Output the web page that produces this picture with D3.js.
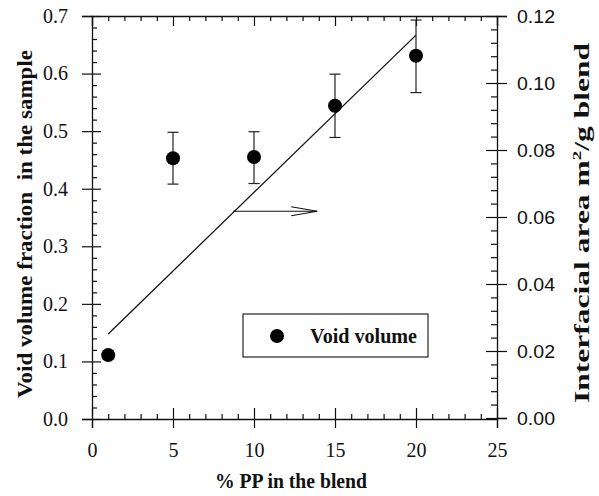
<!DOCTYPE html>
<html><head><meta charset="utf-8">
<script src="https://cdn.jsdelivr.net/npm/d3@7"></script>
<style>
body{margin:0;background:#fff;}
svg{display:block;}
</style></head>
<body>
<script>
// Data
const ppPercent = [1, 5, 10, 15, 20];
const voidVolume = [0.111, 0.453, 0.455, 0.544, 0.631];
const voidErrLow = [0.104, 0.408, 0.409, 0.489, 0.567];
const voidErrHigh = [0.119, 0.498, 0.499, 0.599, 0.693];
const areaX = [1, 20];
const areaValues = [0.0251, 0.1143];
const xTicks = [0, 5, 10, 15, 20, 25];
const yLeftTicks = [0.0, 0.1, 0.2, 0.3, 0.4, 0.5, 0.6, 0.7];
const yRightTicks = [0.00, 0.02, 0.04, 0.06, 0.08, 0.10, 0.12];

const W = 599, H = 496;
const svg = d3.select("body").append("svg").attr("width", W).attr("height", H);

const x = d3.scaleLinear().domain([0, 25]).range([92, 497]);
const yL = d3.scaleLinear().domain([0, 0.7]).range([419, 16]);
const yR = d3.scaleLinear().domain([0, 0.12]).range([418, 16]);

const ink = "#111";
const serif = "'Liberation Serif','Times New Roman',serif";
const sans = "'Liberation Sans',Arial,sans-serif";

const xMinor = d3.range(0, 25.001, 1).filter(v => v % 5 !== 0);
const yLMinor = d3.range(0, 0.7001, 0.02).filter(v => Math.abs(v*10 - Math.round(v*10)) > 1e-6);
const yRMinor = d3.range(0, 0.12001, 0.004).filter(v => Math.abs(v*50 - Math.round(v*50)) > 1e-6);

function styleAxis(g){
  g.select(".domain").attr("stroke", ink).attr("stroke-width", 1.3);
  g.selectAll(".tick line").attr("stroke", ink).attr("stroke-width", 1.2);
}

// Left axis with labels (outward ticks)
const gL = svg.append("g").attr("transform", `translate(${x(0)},0)`)
  .call(d3.axisLeft(yL).tickValues(yLeftTicks).tickSize(10).tickPadding(14).tickFormat(d3.format(".1f")));
styleAxis(gL);
gL.selectAll("text").attr("font-family", serif).attr("font-size", 20).attr("fill", ink);
svg.append("g").attr("transform", `translate(${x(0)},0)`)
  .call(d3.axisRight(yL).tickValues(yLeftTicks).tickSize(9).tickFormat(""))
  .call(g => { styleAxis(g); g.select(".domain").remove(); });
svg.append("g").attr("transform", `translate(${x(0)},0)`)
  .call(d3.axisRight(yL).tickValues(yLMinor).tickSize(5).tickFormat(""))
  .call(g => { styleAxis(g); g.select(".domain").remove(); });

// Bottom axis
const gB = svg.append("g").attr("transform", `translate(0,${yL(0)})`)
  .call(d3.axisBottom(x).tickValues(xTicks).tickSize(9).tickPadding(15).tickFormat(d3.format("d")));
styleAxis(gB);
gB.selectAll("text").attr("font-family", serif).attr("font-size", 20).attr("fill", ink);
svg.append("g").attr("transform", `translate(0,${yL(0)})`)
  .call(d3.axisTop(x).tickValues(xTicks).tickSize(11).tickFormat(""))
  .call(g => { styleAxis(g); g.select(".domain").remove(); });
svg.append("g").attr("transform", `translate(0,${yL(0)})`)
  .call(d3.axisTop(x).tickValues(xMinor).tickSize(5).tickFormat(""))
  .call(g => { styleAxis(g); g.select(".domain").remove(); });

// Top border with inward ticks
const gT = svg.append("g").attr("transform", `translate(0,${yL(0.7)})`)
  .call(d3.axisBottom(x).tickValues(xTicks).tickSize(10).tickFormat(""));
styleAxis(gT);
svg.append("g").attr("transform", `translate(0,${yL(0.7)})`)
  .call(d3.axisBottom(x).tickValues(xMinor).tickSize(5).tickFormat(""))
  .call(g => { styleAxis(g); g.select(".domain").remove(); });

// Right axis
const gR = svg.append("g").attr("transform", `translate(${x(25)},0)`)
  .call(d3.axisRight(yR).tickValues(yRightTicks).tickSize(10).tickPadding(10).tickFormat(d3.format(".2f")));
styleAxis(gR);
gR.selectAll("text").attr("font-family", sans).attr("font-size", 19).attr("fill", ink)
  .attr("textLength", 38).attr("lengthAdjust", "spacingAndGlyphs");
svg.append("g").attr("transform", `translate(${x(25)},0)`)
  .call(d3.axisLeft(yR).tickValues(yRightTicks).tickSize(11).tickFormat(""))
  .call(g => { styleAxis(g); g.select(".domain").remove(); });
svg.append("g").attr("transform", `translate(${x(25)},0)`)
  .call(d3.axisLeft(yR).tickValues(yRMinor).tickSize(6).tickFormat(""))
  .call(g => { styleAxis(g); g.select(".domain").remove(); });

// Interfacial area line (right axis)
const areaData = areaX.map((v, i) => ({x: v, y: areaValues[i]}));
svg.append("path").datum(areaData)
  .attr("d", d3.line().x(d => x(d.x)).y(d => yR(d.y)))
  .attr("fill", "none").attr("stroke", ink).attr("stroke-width", 1.3);

// Arrow pointing to right axis
const arrowStart = [8.7, 0.0617], arrowEnd = [13.9, 0.0617];
const ax1 = x(arrowStart[0]), ax2 = x(arrowEnd[0]), ay = yR(arrowStart[1]);
svg.append("line").attr("x1", ax1).attr("x2", ax2).attr("y1", ay).attr("y2", ay)
  .attr("stroke", ink).attr("stroke-width", 1.1);
svg.append("path")
  .attr("d", `M${ax2-26},${ay-4.5}L${ax2},${ay}L${ax2-26},${ay+4.5}`)
  .attr("fill", "none").attr("stroke", ink).attr("stroke-width", 1.1);

// Error bars
const pts = ppPercent.map((v, i) => ({x: v, y: voidVolume[i], lo: voidErrLow[i], hi: voidErrHigh[i]}));
const eb = svg.append("g").attr("stroke", "#222").attr("stroke-width", 1.2);
pts.forEach(d => {
  const cx = x(d.x);
  eb.append("line").attr("x1", cx).attr("x2", cx).attr("y1", yL(d.lo)).attr("y2", yL(d.hi));
  eb.append("line").attr("x1", cx-5.5).attr("x2", cx+5.5).attr("y1", yL(d.lo)).attr("y2", yL(d.lo));
  eb.append("line").attr("x1", cx-5.5).attr("x2", cx+5.5).attr("y1", yL(d.hi)).attr("y2", yL(d.hi));
});
svg.append("g").selectAll("circle").data(pts).join("circle")
  .attr("cx", d => x(d.x)).attr("cy", d => yL(d.y)).attr("r", 7).attr("fill", "#000");

// Legend
const lg = svg.append("g");
lg.append("rect").attr("x", 243).attr("y", 314).attr("width", 185).attr("height", 43)
  .attr("fill", "#fff").attr("stroke", ink).attr("stroke-width", 1.1);
lg.append("circle").attr("cx", 277).attr("cy", 336).attr("r", 7).attr("fill", "#000");
lg.append("text").attr("x", 310).attr("y", 343).attr("font-family", serif).attr("font-weight", "bold")
  .attr("font-size", 20).attr("fill", ink).attr("textLength", 107).attr("lengthAdjust", "spacingAndGlyphs")
  .text("Void volume");

// Axis titles
svg.append("text").attr("x", 291).attr("y", 488).attr("text-anchor", "middle")
  .attr("font-family", serif).attr("font-weight", "bold").attr("font-size", 20).attr("fill", ink)
  .attr("textLength", 152).attr("lengthAdjust", "spacingAndGlyphs")
  .text("% PP in the blend");
svg.append("text").attr("transform", "translate(32,224) rotate(-90)").attr("text-anchor", "middle")
  .attr("font-family", serif).attr("font-weight", "bold").attr("font-size", 20).attr("fill", ink)
  .attr("textLength", 348).attr("lengthAdjust", "spacingAndGlyphs")
  .style("white-space", "pre")
  .text("Void volume fraction  in the sample");
const rt = svg.append("text").attr("transform", "translate(589,223) rotate(-90)").attr("text-anchor", "middle")
  .attr("font-family", serif).attr("font-weight", "bold").attr("font-size", 20).attr("fill", ink)
  .attr("textLength", 360).attr("lengthAdjust", "spacingAndGlyphs");
rt.append("tspan").text("Interfacial area m");
rt.append("tspan").attr("dy", -8).attr("font-size", 12).text("2");
rt.append("tspan").attr("dy", 8).text("/g blend");
</script>
</body></html>
